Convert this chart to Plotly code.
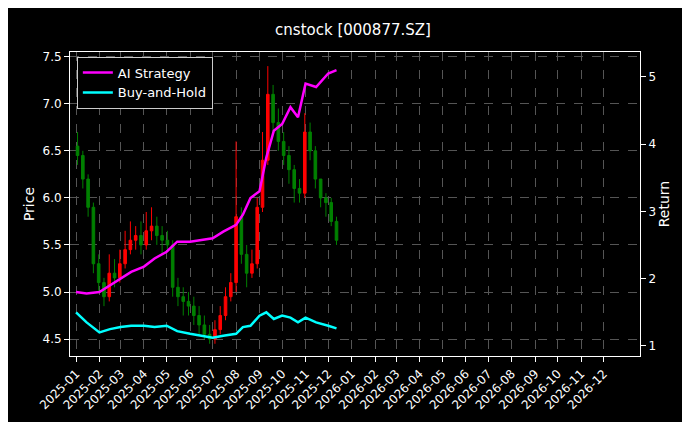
import plotly.graph_objects as go
import pandas as pd

# weekly candles
dates = pd.date_range("2025-01-03", periods=50, freq="W-FRI")
opens = [6.55, 6.45, 6.20, 5.90, 5.30, 5.10, 4.95, 5.20, 5.15, 5.30,
         5.45, 5.55, 5.60, 5.50, 5.65, 5.70, 5.60, 5.55, 5.50, 5.05,
         4.95, 4.90, 4.85, 4.75, 4.65, 4.55, 4.50, 4.60, 4.75, 4.95,
         5.10, 5.80, 5.40, 5.20, 5.30, 5.90, 6.40, 7.10, 6.80, 6.60,
         6.45, 6.30, 6.10, 6.05, 6.70, 6.50, 6.20, 6.00, 5.95, 5.75]
closes = [6.45, 6.20, 5.90, 5.30, 5.10, 4.95, 5.20, 5.15, 5.30, 5.45,
          5.55, 5.60, 5.50, 5.65, 5.70, 5.60, 5.55, 5.50, 5.05, 4.95,
          4.90, 4.85, 4.75, 4.65, 4.55, 4.50, 4.60, 4.75, 4.95, 5.10,
          5.80, 5.40, 5.20, 5.30, 5.90, 6.40, 7.10, 6.80, 6.60, 6.45,
          6.30, 6.10, 6.05, 6.70, 6.50, 6.20, 6.00, 5.95, 5.75, 5.55]
highs = [6.70, 6.50, 6.25, 5.95, 5.40, 5.15, 5.40, 5.35, 5.45, 5.65,
         5.75, 5.70, 5.75, 5.85, 5.90, 5.80, 5.70, 5.65, 5.55, 5.15,
         5.05, 5.00, 4.95, 4.85, 4.75, 4.65, 4.70, 4.85, 5.05, 5.20,
         6.60, 5.90, 5.50, 5.45, 6.00, 6.70, 7.40, 7.20, 6.95, 6.70,
         6.55, 6.35, 6.20, 6.90, 6.80, 6.55, 6.20, 6.05, 6.00, 5.80]
lows = [6.35, 6.10, 5.80, 5.20, 5.00, 4.85, 4.90, 5.05, 5.10, 5.25,
        5.40, 5.45, 5.40, 5.45, 5.55, 5.50, 5.40, 5.45, 4.95, 4.85,
        4.75, 4.75, 4.65, 4.55, 4.50, 4.45, 4.45, 4.55, 4.70, 4.90,
        5.00, 5.30, 5.05, 5.15, 5.25, 5.85, 6.35, 6.70, 6.50, 6.35,
        6.15, 5.95, 5.95, 6.00, 6.40, 6.10, 5.90, 5.80, 5.70, 5.50]

ret_dates = ["2025-01-01", "2025-01-15", "2025-02-01", "2025-02-15", "2025-03-01", "2025-03-15",
             "2025-04-01", "2025-04-15", "2025-05-01", "2025-05-15", "2025-06-01", "2025-06-15",
             "2025-07-01", "2025-07-15", "2025-08-01", "2025-08-10", "2025-08-20", "2025-09-01",
             "2025-09-10", "2025-09-20", "2025-10-01", "2025-10-12", "2025-10-22", "2025-11-01",
             "2025-11-15", "2025-12-01", "2025-12-12"]
ai_strategy = [1.80, 1.78, 1.80, 1.90, 2.00, 2.10, 2.18, 2.30, 2.40, 2.55, 2.55, 2.57,
               2.60, 2.70, 2.80, 2.95, 3.20, 3.30, 3.80, 4.20, 4.30, 4.55, 4.40, 4.90,
               4.85, 5.05, 5.10]
buy_hold = [1.50, 1.35, 1.20, 1.25, 1.28, 1.30, 1.30, 1.28, 1.30, 1.22, 1.18, 1.15,
            1.12, 1.15, 1.18, 1.28, 1.30, 1.45, 1.50, 1.40, 1.45, 1.42, 1.35, 1.42,
            1.35, 1.30, 1.26]

tick_vals = ["2025-%02d-01" % m for m in range(1, 13)] + ["2026-%02d-01" % m for m in range(1, 13)]
tick_text = [t[:7] for t in tick_vals]

fig = go.Figure()
fig.add_trace(go.Candlestick(
    x=dates, open=opens, high=highs, low=lows, close=closes,
    increasing=dict(line=dict(color="red", width=1), fillcolor="red"),
    decreasing=dict(line=dict(color="green", width=1), fillcolor="green"),
    whiskerwidth=0, showlegend=False, name="Price"))
fig.add_trace(go.Scatter(x=ret_dates, y=ai_strategy, name="AI Strategy", yaxis="y2",
                         line=dict(color="magenta", width=2.5)))
fig.add_trace(go.Scatter(x=ret_dates, y=buy_hold, name="Buy-and-Hold", yaxis="y2",
                         line=dict(color="cyan", width=2.5)))

grid = dict(showgrid=True, gridcolor="#555", griddash="dash", gridwidth=0.5,
            showline=True, linecolor="white", mirror=True, ticks="outside",
            tickcolor="white", zeroline=False, automargin=False)

fig.update_layout(
    width=690, height=422,
    paper_bgcolor="black", plot_bgcolor="black",
    font=dict(family="DejaVu Sans", color="white", size=12),
    title=dict(text="cnstock [000877.SZ]", x=0.5, xanchor="center", y=0.96, font=dict(size=15)),
    margin=dict(l=62, r=58, t=44, b=74),
    xaxis=dict(**grid, type="date", range=["2024-12-24", "2027-01-18"],
               tickvals=tick_vals, ticktext=tick_text, tickangle=-45,
               rangeslider=dict(visible=False)),
    yaxis=dict(**grid, title=dict(text="Price", standoff=4), range=[4.32, 7.55],
               tickvals=[4.5, 5.0, 5.5, 6.0, 6.5, 7.0, 7.5], tickformat=".1f"),
    yaxis2=dict(overlaying="y", side="right", range=[0.85, 5.37], showgrid=False,
                showline=True, linecolor="white", ticks="outside", tickcolor="white",
                title=dict(text="Return", standoff=4), tickvals=[1, 2, 3, 4, 5],
                zeroline=False, automargin=False),
    legend=dict(x=0.012, y=0.985, xanchor="left", yanchor="top", bgcolor="black",
                bordercolor="#ccc", borderwidth=1, font=dict(size=13)),
)

fig.write_html("out.html")
